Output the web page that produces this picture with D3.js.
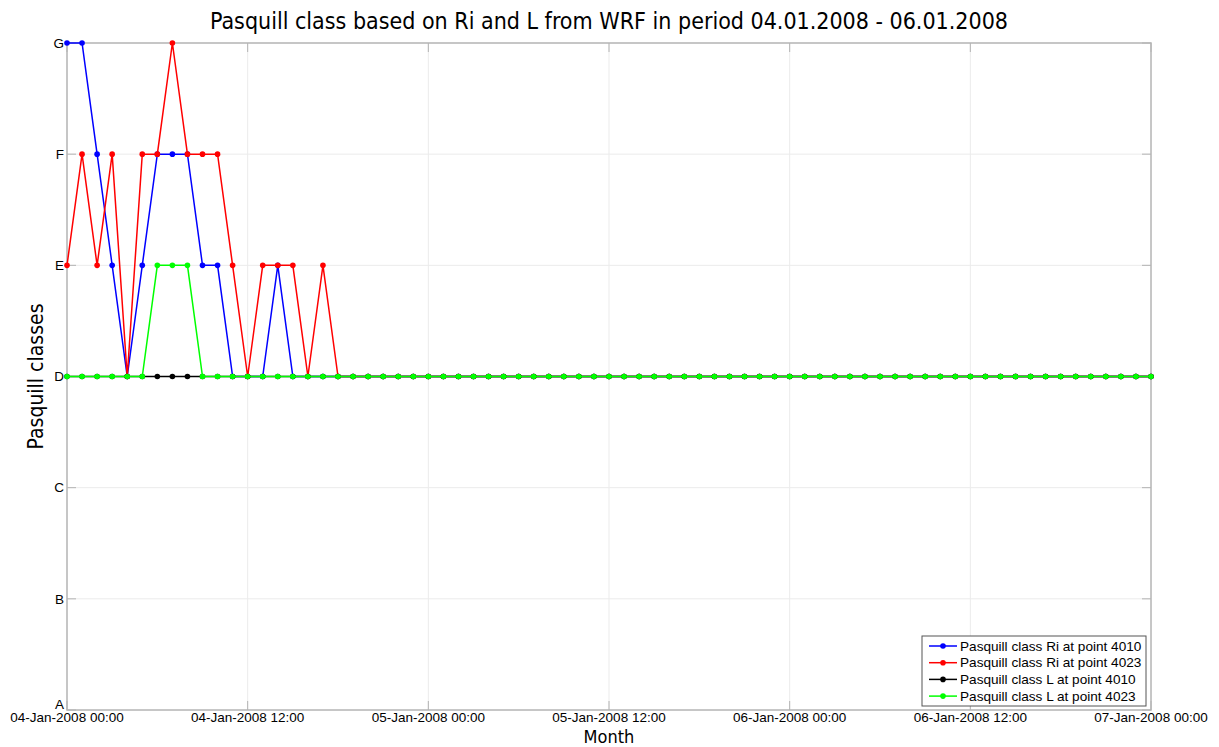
<!DOCTYPE html>
<html>
<head>
<meta charset="utf-8">
<script src="https://cdn.jsdelivr.net/npm/d3@7"></script>
<style>
  body { margin: 0; background: #fff; }
  text { font-family: "Liberation Sans", Arial, sans-serif; }
  .title, .axlabel { font-family: "DejaVu Sans", sans-serif; font-stretch: condensed; }
</style>
</head>
<body>
<div id="chart"></div>
<script>
// classes on y: A=1 ... G=7
var classLabels = ["A", "B", "C", "D", "E", "F", "G"];

// x tick labels, every 12 hours from 04-Jan-2008 00:00
var xTickLabels = ["04-Jan-2008 00:00", "04-Jan-2008 12:00", "05-Jan-2008 00:00",
  "05-Jan-2008 12:00", "06-Jan-2008 00:00", "06-Jan-2008 12:00", "07-Jan-2008 00:00"];

// hourly values for first 19 hours, the rest stay at D (4)
var riPoint4010 = [7,7,6,5,4,5,6,6,6,5,5,4,4,4,5,4,4,4,4];
var riPoint4023 = [5,6,5,6,4,6,6,7,6,6,6,5,4,5,5,5,4,5,4];
var lPoint4010  = [4,4,4,4,4,4,4,4,4,4,4,4,4,4,4,4,4,4,4];
var lPoint4023  = [4,4,4,4,4,4,5,5,5,4,4,4,4,4,4,4,4,4,4];
var restValue = 4;
var nHours = 73;

function fullSeries(arr) {
  var out = [];
  for (var i = 0; i < nHours; i++) out.push(i < arr.length ? arr[i] : restValue);
  return out;
}

var series = [
  {name: "Pasquill class Ri at point 4010", color: "#0000ff", values: fullSeries(riPoint4010)},
  {name: "Pasquill class Ri at point 4023", color: "#ff0000", values: fullSeries(riPoint4023)},
  {name: "Pasquill class L at point 4010",  color: "#000000", values: fullSeries(lPoint4010)},
  {name: "Pasquill class L at point 4023",  color: "#00ff00", values: fullSeries(lPoint4023)}
];

var W = 1219, H = 747;
var margin = {top: 43, right: 68, bottom: 37, left: 67},
    width = W - margin.left - margin.right,
    height = H - margin.top - margin.bottom;

var svg = d3.select("#chart").append("svg")
    .attr("width", W).attr("height", H);

var g = svg.append("g")
    .attr("transform", "translate(" + margin.left + "," + margin.top + ")");

var x = d3.scaleLinear().domain([0, 72]).range([0, width]);
var y = d3.scaleLinear().domain([1, 7]).range([height, 0]);

var xTicks = d3.range(0, 73, 12);
var yTicks = d3.range(1, 8);

// grid
g.append("g").selectAll("line").data(xTicks.slice(1, -1)).enter().append("line")
  .attr("x1", d => x(d)).attr("x2", d => x(d)).attr("y1", 0).attr("y2", height)
  .attr("stroke", "#ebebeb").attr("stroke-width", 1);
g.append("g").selectAll("line").data(yTicks.slice(1, -1)).enter().append("line")
  .attr("x1", 0).attr("x2", width).attr("y1", d => y(d)).attr("y2", d => y(d))
  .attr("stroke", "#ebebeb").attr("stroke-width", 1);

// axes box
g.append("rect").attr("width", width).attr("height", height)
  .attr("fill", "none").attr("stroke", "#b4b4b4").attr("stroke-width", 1.5);

// ticks (inward)
var tickLen = 9;
g.append("g").selectAll("line").data(xTicks).enter().append("line")
  .attr("x1", d => x(d)).attr("x2", d => x(d)).attr("y1", height).attr("y2", height - tickLen)
  .attr("stroke", "#b4b4b4");
g.append("g").selectAll("line").data(xTicks).enter().append("line")
  .attr("x1", d => x(d)).attr("x2", d => x(d)).attr("y1", 0).attr("y2", tickLen)
  .attr("stroke", "#b4b4b4");
g.append("g").selectAll("line").data(yTicks).enter().append("line")
  .attr("x1", 0).attr("x2", tickLen).attr("y1", d => y(d)).attr("y2", d => y(d))
  .attr("stroke", "#b4b4b4");
g.append("g").selectAll("line").data(yTicks).enter().append("line")
  .attr("x1", width).attr("x2", width - tickLen).attr("y1", d => y(d)).attr("y2", d => y(d))
  .attr("stroke", "#b4b4b4");

// tick labels
g.append("g").selectAll("text").data(xTicks).enter().append("text")
  .attr("x", d => x(d)).attr("y", height + 12)
  .attr("text-anchor", "middle").attr("font-size", 13.5).attr("fill", "#000")
  .text((d, i) => xTickLabels[i]);
g.append("g").selectAll("text").data(yTicks).enter().append("text")
  .attr("x", -3).attr("y", d => y(d)).attr("dy", d => d === 1 ? "-0.1em" : "0.35em")
  .attr("text-anchor", "end").attr("font-size", 13.5).attr("fill", "#000")
  .text((d, i) => classLabels[i]);

// lines + markers
var line = d3.line().x((d, i) => x(i)).y(d => y(d));
series.forEach(function(s) {
  g.append("path").datum(s.values)
    .attr("d", line).attr("fill", "none")
    .attr("stroke", s.color).attr("stroke-width", 1.5);
  g.append("g").selectAll("circle").data(s.values).enter().append("circle")
    .attr("cx", (d, i) => x(i)).attr("cy", d => y(d)).attr("r", 2.8)
    .attr("fill", s.color);
});

// title and axis labels
svg.append("text").attr("class", "title")
  .attr("x", 609).attr("y", 29).attr("text-anchor", "middle")
  .attr("font-size", 23).text("Pasquill class based on Ri and L from WRF in period 04.01.2008 - 06.01.2008");
svg.append("text").attr("class", "axlabel")
  .attr("x", 609).attr("y", 742.5).attr("text-anchor", "middle")
  .attr("font-size", 18).text("Month");
svg.append("text").attr("class", "axlabel")
  .attr("transform", "translate(43," + (margin.top + y(4)) + ") rotate(-90)")
  .attr("text-anchor", "middle").attr("font-size", 21).text("Pasquill classes");

// ----- LEGEND -----
var lx = 922, ly = 636, lw = 224, lh = 70;
var legend = svg.append("g");
legend.append("rect").attr("x", lx).attr("y", ly).attr("width", lw).attr("height", lh)
  .attr("fill", "#fff").attr("stroke", "#555").attr("stroke-width", 1);
var rows = legend.selectAll(".legend").data(series).enter().append("g")
  .attr("class", "legend")
  .attr("transform", (d, i) => "translate(" + lx + "," + (ly + 10 + i * 16.7) + ")");
rows.append("line").attr("x1", 7).attr("x2", 35).attr("y1", 0).attr("y2", 0)
  .attr("stroke", d => d.color).attr("stroke-width", 1.5);
rows.append("circle").attr("cx", 21).attr("cy", 0).attr("r", 2.8).attr("fill", d => d.color);
rows.append("text").attr("x", 38).attr("y", 0).attr("dy", "0.35em")
  .attr("font-size", 13.6).text(d => d.name);
</script>
</body>
</html>
